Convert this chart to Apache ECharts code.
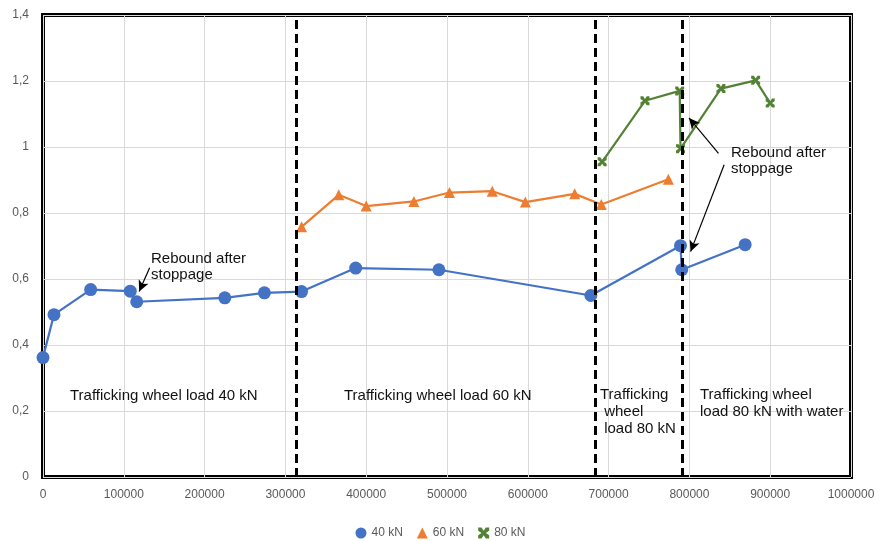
<!DOCTYPE html>
<html><head><meta charset="utf-8">
<script src="https://cdn.jsdelivr.net/npm/echarts@6/dist/echarts.min.js"></script>
<style>html,body{margin:0;padding:0;background:#fff}#c{width:881px;height:541px}</style>
</head><body><div id="c"></div>
<script>
// ---- data ----
const seriesNames = ['40 kN', '60 kN', '80 kN'];
const x40 = [0, 13600, 59000, 108000, 116000, 225000, 274000, 320000, 387000, 490000, 678000, 789000, 790500, 869000];
const y40 = [0.362, 0.492, 0.568, 0.563, 0.531, 0.543, 0.558, 0.562, 0.633, 0.628, 0.550, 0.701, 0.628, 0.704];
const x60 = [320000, 366000, 400000, 459000, 503000, 556000, 597000, 658000, 691000, 774000];
const y60 = [0.758, 0.855, 0.821, 0.835, 0.862, 0.866, 0.833, 0.858, 0.826, 0.902];
const x80 = [692000, 745000, 788000, 789000, 839000, 882000, 900000];
const y80 = [0.955, 1.140, 1.170, 0.995, 1.177, 1.202, 1.133];
const phaseBounds = [313000, 683000, 791000];
const xTicks = [0, 1000000, 100000];
const yTicks = [0, 1.4, 0.2];
// arrows: [fromX, fromY, toX, toY]
const arrows = [
  [132000, 0.634, 119000, 0.562],
  [836000, 0.981, 799500, 1.088],
  [843000, 0.946, 801500, 0.683]
];

const colors = ['#4472C4', '#ED7D31', '#548235'];
const xPath = 'path://M0,0 L3,0 L5,3 L7,0 L10,0 L10,3 L7,5 L10,7 L10,10 L7,10 L5,7 L3,10 L0,10 L0,7 L3,5 L0,3 Z';

const zip = (xs, ys) => xs.map((x, i) => [x, ys[i]]);
const fmt = v => String(Math.round(v * 10) / 10).replace('.', ',');

const markLineData = phaseBounds.map(v => ({
  xAxis: v, symbol: 'none',
  lineStyle: {color: '#000', type: [9, 5], width: 3}
})).concat(arrows.map(a => [
  {coord: [a[0], a[1]], symbol: 'none', lineStyle: {color: '#000', type: 'solid', width: 1.2}},
  {coord: [a[2], a[3]], symbol: 'arrow', symbolSize: [8, 11]}
]));

const chart = echarts.init(document.getElementById('c'), null, {renderer: 'canvas'});
const txt = {fontFamily: 'Liberation Sans, Arial, sans-serif', fontSize: 15, fill: '#111'};
chart.setOption({
  animation: false,
  color: colors,
  grid: {left: 43, right: 30, top: 15, bottom: 64, show: true, borderColor: '#000', borderWidth: 4, backgroundColor: 'transparent'},
  legend: {
    top: 522, left: 'center', itemGap: 14, itemWidth: 11, itemHeight: 11,
    textStyle: {color: '#595959', fontSize: 12, fontFamily: 'Liberation Sans, Arial, sans-serif'},
    data: [
      {name: seriesNames[0], icon: 'circle'},
      {name: seriesNames[1], icon: 'triangle'},
      {name: seriesNames[2], icon: xPath}
    ]
  },
  xAxis: {
    type: 'value', min: xTicks[0], max: xTicks[1], interval: xTicks[2],
    axisLine: {show: false}, axisTick: {show: false},
    splitLine: {lineStyle: {color: '#d9d9d9', width: 1}},
    axisLabel: {color: '#595959', fontSize: 12, margin: 12, fontFamily: 'Liberation Sans, Arial, sans-serif', formatter: v => String(v)}
  },
  yAxis: {
    type: 'value', min: yTicks[0], max: yTicks[1], interval: yTicks[2],
    axisLine: {show: false}, axisTick: {show: false},
    splitLine: {lineStyle: {color: '#d9d9d9', width: 1}},
    axisLabel: {color: '#595959', fontSize: 12, margin: 14, fontFamily: 'Liberation Sans, Arial, sans-serif', formatter: fmt}
  },
  series: [
    {
      name: seriesNames[0], type: 'line', data: zip(x40, y40),
      symbol: 'circle', symbolSize: 13, lineStyle: {width: 2.2, color: colors[0]},
      itemStyle: {color: colors[0]}, z: 3,
      markLine: {silent: true, symbol: 'none', label: {show: false}, data: markLineData, z: 5}
    },
    {
      name: seriesNames[1], type: 'line', data: zip(x60, y60),
      symbol: 'triangle', symbolSize: 11, lineStyle: {width: 2.2, color: colors[1]},
      itemStyle: {color: colors[1]}, z: 3
    },
    {
      name: seriesNames[2], type: 'line', data: zip(x80, y80),
      symbol: xPath, symbolSize: 9, lineStyle: {width: 2.2, color: colors[2]},
      itemStyle: {color: colors[2]}, z: 3
    }
  ],
  graphic: [
    {type: 'text', z: 100, left: 70, top: 388, style: Object.assign({text: 'Trafficking wheel load 40 kN'}, txt)},
    {type: 'text', z: 100, left: 344, top: 388, style: Object.assign({text: 'Trafficking wheel load 60 kN'}, txt)},
    {type: 'text', z: 100, left: 600, top: 386, style: Object.assign({text: 'Trafficking\n wheel\n load 80 kN', lineHeight: 17}, txt)},
    {type: 'text', z: 100, left: 700, top: 386, style: Object.assign({text: 'Trafficking wheel\nload 80 kN with water', lineHeight: 17}, txt)},
    {type: 'text', z: 100, left: 151, top: 251, style: Object.assign({text: 'Rebound after\nstoppage', lineHeight: 16}, txt)},
    {type: 'text', z: 100, left: 731, top: 145, style: Object.assign({text: 'Rebound after\nstoppage', lineHeight: 16}, txt)}
  ]
});
</script></body></html>
